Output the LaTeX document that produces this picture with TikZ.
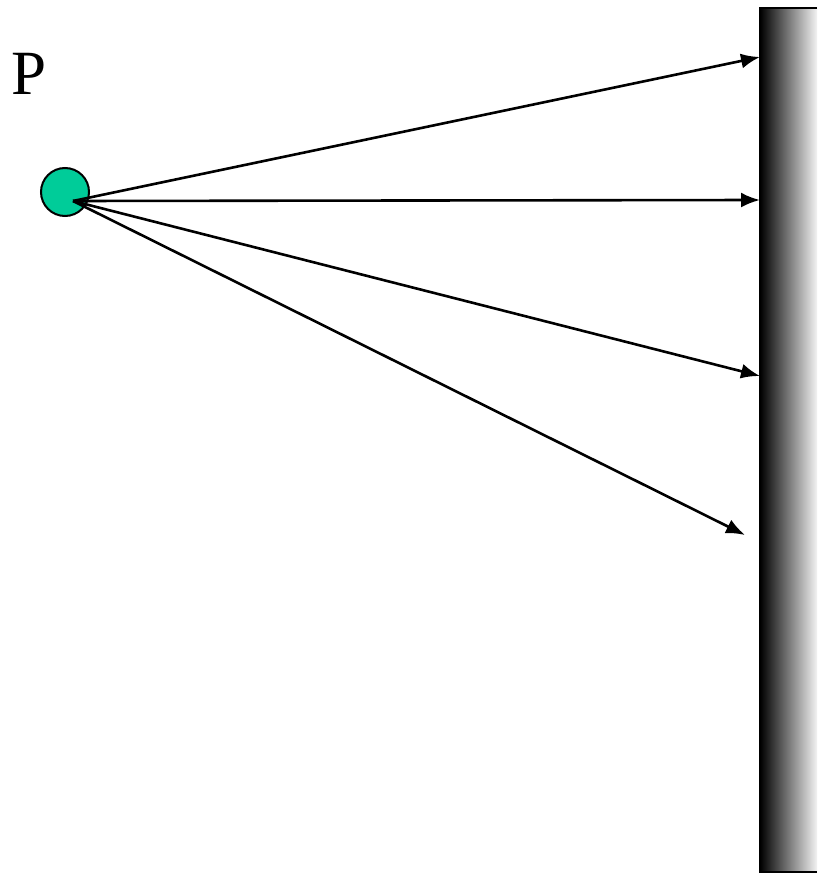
\documentclass[tikz,border=0pt]{standalone}
\usepackage{fontspec}
\setmainfont{Liberation Serif}
\usetikzlibrary{arrows.meta}
\definecolor{srcgreen}{HTML}{00CC99}
\begin{document}
\begin{tikzpicture}[x=1pt,y=-1pt,
  ray/.style={draw=black,line width=2.6pt,-{Latex[length=19pt,width=15pt]}},
  src/.style={circle,draw=black,line width=2pt,fill=srcgreen,minimum size=48pt,inner sep=0pt}]
\useasboundingbox (0,0) rectangle (817,874);
\node[anchor=base west,inner sep=0pt,font=\fontsize{63}{70}\selectfont] (plabel) at (11,95) {P};
\shade[left color=black,right color=white!95!black] (760,8) rectangle (817,872);
\draw[line width=2.8pt] (817,8) -- (760,8) -- (760,872) -- (817,872);
\node[src] (p) at (65,192) {};
\coordinate (o) at (73,201);
\coordinate (t1) at (760,57);
\coordinate (t2) at (760,200);
\coordinate (t3) at (760,376);
\coordinate (t4) at (745,535);
\draw[ray] (o) -- (t1);
\draw[ray] (o) -- (t2);
\draw[ray] (o) -- (t3);
\draw[ray] (o) -- (t4);
\end{tikzpicture}
\end{document}
